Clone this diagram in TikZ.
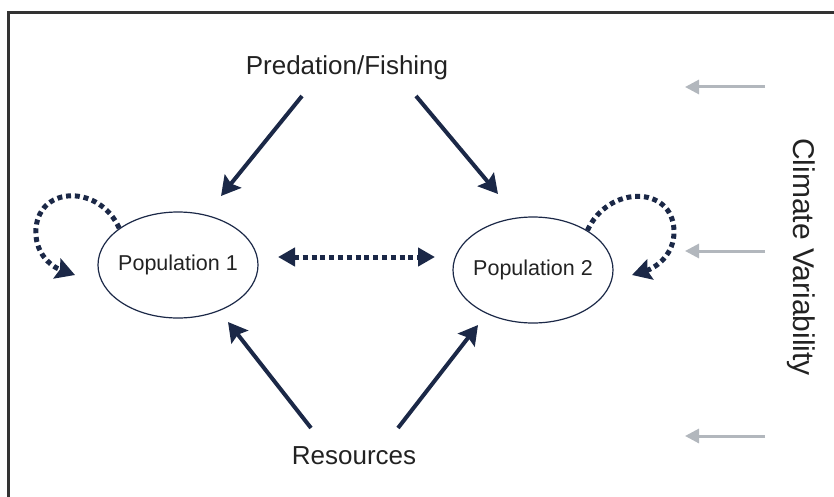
\documentclass[tikz,border=0pt]{standalone}
\usepackage{fontspec}
\setmainfont{Liberation Sans}
\usetikzlibrary{arrows.meta,shapes.geometric}
\definecolor{navy}{HTML}{1B2847}
\definecolor{cgray}{HTML}{B2B7BD}
\definecolor{txt}{HTML}{222222}
\begin{document}
\begin{tikzpicture}[x=1pt,y=-1pt,
  lbl/.style={text=txt,inner sep=0pt,font=\fontsize{26}{30}\selectfont},
  pop/.style={ellipse,draw=navy,line width=1.2pt,minimum width=160pt,minimum height=106pt,inner xsep=-4pt,inner ysep=0pt,text=txt,font=\fontsize{21.5}{25}\selectfont},
  effect/.style={draw=navy,line width=4pt,-{Stealth[length=19pt,width=21pt,inset=3pt]}},
  dotarrow/.style={draw=navy,line width=5pt,dash pattern=on 5pt off 3.8pt,-{Stealth[length=19pt,width=21pt,inset=3pt]}},
  dtip/.tip={Triangle[length=17pt,width=18pt]},
  climate/.style={draw=cgray,line width=3pt,-{Triangle[length=14pt,width=14pt]}}]
\useasboundingbox (0,0) rectangle (834,497);
\draw[line width=2.2pt,draw=black!80] (8.5,497) -- (8.5,12.5) -- (834,12.5);

\node[lbl] (pred) at (347,68) {Predation/Fishing};
\node[lbl] (res) at (354,456) {Resources};
\node[pop] (p1) at (178,265) {Population 1};
\node[pop] (p2) at (533,270) {Population 2};
\node[lbl,font=\fontsize{30}{34}\selectfont,rotate=-90] (clim) at (801,257) {Climate Variability};

% arrow end points
\coordinate (a1s) at (302,96);  \coordinate (a1e) at (221,196);
\coordinate (a2s) at (416,96);  \coordinate (a2e) at (498,194);
\coordinate (b1s) at (311,428); \coordinate (b1e) at (228,322);
\coordinate (b2s) at (398,428); \coordinate (b2e) at (478,325);
\coordinate (dl) at (278,257);  \coordinate (dr) at (435,257);
\coordinate (l1e) at (75,275);  \coordinate (l2e) at (632,275);

\draw[effect] (a1s) -- (a1e);
\draw[effect] (a2s) -- (a2e);
\draw[effect] (b1s) -- (b1e);
\draw[effect] (b2s) -- (b2e);

\draw[dotarrow,dtip-dtip] (dl) -- (dr);

\draw[dotarrow] (p1.148) .. controls (100,185) and (40,185) .. (36,228) .. controls (34,252) and (50,266) .. (l1e);
\draw[dotarrow] (p2.36) .. controls (608,185) and (672,185) .. (674,230) .. controls (675,255) and (655,268) .. (l2e);

\coordinate (c1s) at (765,87);  \coordinate (c1e) at (685,87);
\coordinate (c2s) at (765,251); \coordinate (c2e) at (685,251);
\coordinate (c3s) at (765,436); \coordinate (c3e) at (685,436);
\draw[climate] (c1s) -- (c1e);
\draw[climate] (c2s) -- (c2e);
\draw[climate] (c3s) -- (c3e);
\end{tikzpicture}
\end{document}
